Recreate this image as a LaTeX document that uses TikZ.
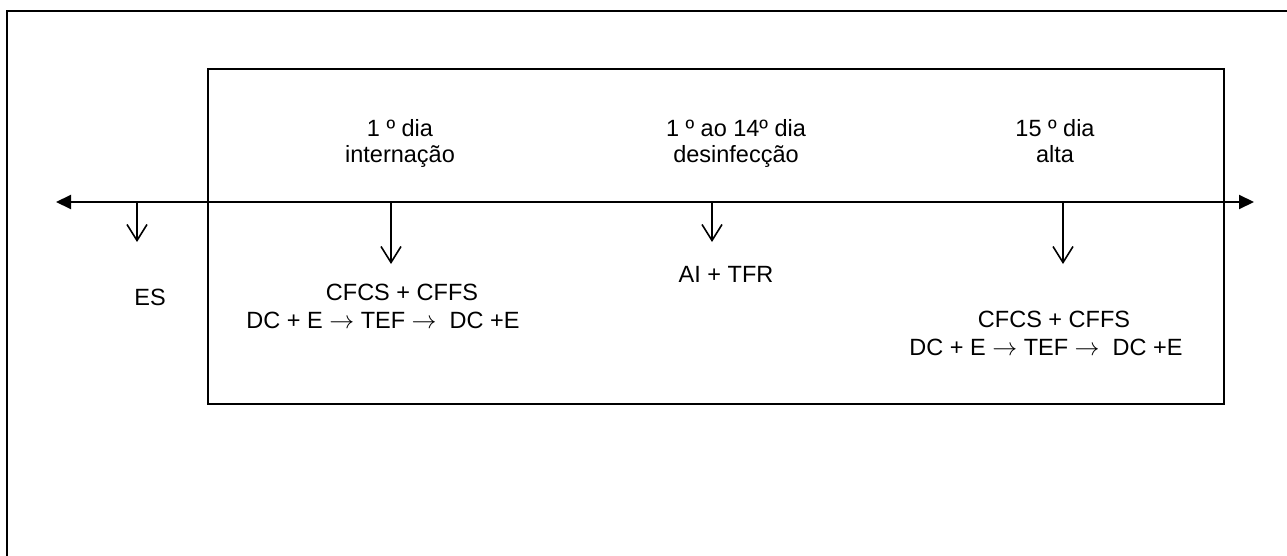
\documentclass[tikz,border=0pt]{standalone}
\usepackage{fontspec}
\setmainfont{Liberation Sans}
\usetikzlibrary{arrows.meta}
\begin{document}
\begin{tikzpicture}[x=1pt,y=-1pt,
  lbl/.style={anchor=base,inner sep=0pt,text height=17pt,text depth=5pt,font=\fontsize{23.5}{26}\selectfont},
  frame/.style={line width=2pt},
  tline/.style={line width=2pt,{Triangle[length=15pt,width=14pt]}-{Triangle[length=15pt,width=14pt]}},
  down/.style={line width=1.6pt,-{Straight Barb[length=16pt,width=20pt,line width=1.6pt]}}]
\useasboundingbox (0,0) rectangle (1287,556);
% outer frame (cropped)
\draw[frame] (7,600) -- (7,11) -- (1300,11);
% inner box
\draw[frame] (208,69) rectangle (1224,404);
% timeline
\coordinate (tl) at (56,202);
\coordinate (tr) at (1254,202);
\draw[tline] (tl) -- (tr);
% drop points
\coordinate (p0) at (137,202); \coordinate (e0) at (137,242);
\coordinate (p1) at (391,202); \coordinate (e1) at (391,264);
\coordinate (p2) at (712,202); \coordinate (e2) at (712,242);
\coordinate (p3) at (1063,202); \coordinate (e3) at (1063,264);
\draw[down] (p0) -- (e0);
\draw[down] (p1) -- (e1);
\draw[down] (p2) -- (e2);
\draw[down] (p3) -- (e3);
% top labels
\node[lbl] (t1a) at (400,137) {1 º dia};
\node[lbl] (t1b) at (400,163) {internação};
\node[lbl] (t2a) at (736,137) {1 º ao 14º dia};
\node[lbl] (t2b) at (736,163) {desinfecção};
\node[lbl] (t3a) at (1055,137) {15 º dia};
\node[lbl] (t3b) at (1055,163) {alta};
% bottom labels
\node[lbl] (es) at (150,305) {ES};
\node[lbl] (b1a) at (402,300) {CFCS + CFFS};
\node[lbl] (b1b) at (383,328) {DC + E \ensuremath{\rightarrow} TEF \ensuremath{\rightarrow}\ \ DC +E};
\node[lbl] (b2) at (726,282) {AI + TFR};
\node[lbl] (b3a) at (1054,327) {CFCS + CFFS};
\node[lbl] (b3b) at (1046,355) {DC + E \ensuremath{\rightarrow} TEF \ensuremath{\rightarrow}\ \ DC +E};
\end{tikzpicture}
\end{document}
